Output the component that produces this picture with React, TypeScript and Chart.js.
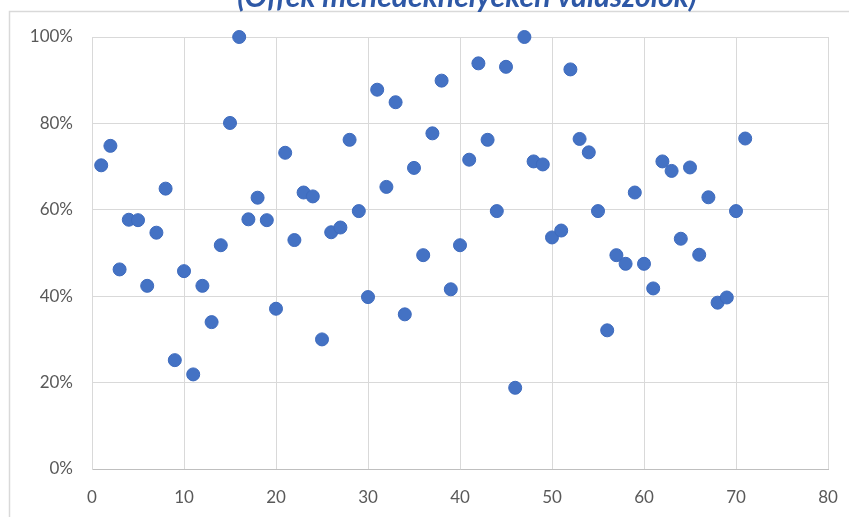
import React, { useEffect, useRef } from "react";
import { Chart, registerables } from "chart.js";

Chart.register(...registerables);

const xValues: number[] = Array.from({ length: 71 }, (_, i) => i + 1);
const yValues: number[] = [
  70.3, 74.8, 46.2, 57.7, 57.6, 42.4, 54.7, 64.9, 25.2, 45.8,
  21.9, 42.4, 34.0, 51.8, 80.1, 100, 57.8, 62.8, 57.6, 37.1,
  73.2, 53.0, 64.0, 63.1, 30.0, 54.8, 55.9, 76.2, 59.7, 39.8,
  87.8, 65.3, 84.9, 35.8, 69.7, 49.5, 77.7, 89.9, 41.6, 51.8,
  71.6, 93.9, 76.2, 59.7, 93.1, 18.8, 100, 71.2, 70.5, 53.6,
  55.2, 92.5, 76.4, 73.3, 59.7, 32.1, 49.5, 47.5, 64.0, 47.5,
  41.8, 71.2, 69.0, 53.3, 69.8, 49.6, 62.9, 38.5, 39.7, 59.7,
  76.5,
];
const titleText = "(Offek menedékhelyeken válaszolók)";
const xTicks = { min: 0, max: 80, step: 10 };
const yTicks = { min: 0, max: 100, step: 20 };

export default function App() {
  const ref = useRef<HTMLCanvasElement | null>(null);
  useEffect(() => {
    document.body.style.margin = "0";
    const canvas = ref.current!;
    const framePlugin = {
      id: "frame",
      beforeDraw(chart: any) {
        const ctx = chart.ctx;
        ctx.save();
        ctx.fillStyle = "#ffffff";
        ctx.fillRect(0, 0, chart.width, chart.height);
        ctx.strokeStyle = "#D9D9D9";
        ctx.lineWidth = 1.5;
        ctx.strokeRect(9.5, 11.5, 900, 600);
        let size = 24;
        ctx.font = `italic bold ${size}px Lato`;
        const w = ctx.measureText(titleText).width;
        size = size * (460 / w);
        ctx.font = `italic bold ${size}px Lato`;
        ctx.fillStyle = "#2E58A6";
        ctx.textAlign = "center";
        ctx.textBaseline = "alphabetic";
        ctx.fillText(titleText, 467, 7);
        ctx.restore();
      },
    };
    const chart = new Chart(canvas, {
      type: "scatter",
      data: {
        datasets: [
          {
            data: xValues.map((x, i) => ({ x, y: yValues[i] })),
            backgroundColor: "#4472C4",
            borderColor: "#3E6BBE",
            borderWidth: 1,
            pointRadius: 6.5,
            pointHoverRadius: 6.5,
            clip: false,
          } as any,
        ],
      },
      options: {
        animation: false,
        responsive: false,
        maintainAspectRatio: false,
        layout: { padding: { top: 37, right: 21, left: 0, bottom: 0 } },
        plugins: { legend: { display: false }, tooltip: { enabled: false }, title: { display: false } },
        scales: {
          x: {
            type: "linear",
            min: xTicks.min,
            max: xTicks.max,
            ticks: { stepSize: xTicks.step, color: "#595959", font: { family: "Lato", size: 17 }, padding: 18 },
            grid: { color: "#D9D9D9", lineWidth: 1, drawTicks: false },
            border: { color: "#BFBFBF", width: 1 },
            afterFit(scale: any) {
              scale.height = 48;
              scale.paddingRight = 0;
              scale.paddingLeft = 0;
            },
          },
          y: {
            type: "linear",
            min: yTicks.min,
            max: yTicks.max,
            ticks: {
              stepSize: yTicks.step,
              color: "#595959",
              font: { family: "Lato", size: 17 },
              padding: 19,
              callback: (v: any) => `${v}%`,
            },
            grid: { color: "#D9D9D9", lineWidth: 1, drawTicks: false },
            border: { color: "#D9D9D9", width: 1 },
            afterFit(scale: any) {
              scale.width = 92;
              scale.paddingTop = 0;
              scale.paddingBottom = 0;
            },
          },
        },
      } as any,
      plugins: [framePlugin],
    });
    return () => chart.destroy();
  }, []);
  return (
    <div style={{ width: 849, height: 517 }}>
      <canvas ref={ref} width={849} height={517} style={{ display: "block", width: 849, height: 517 }} />
    </div>
  );
}
